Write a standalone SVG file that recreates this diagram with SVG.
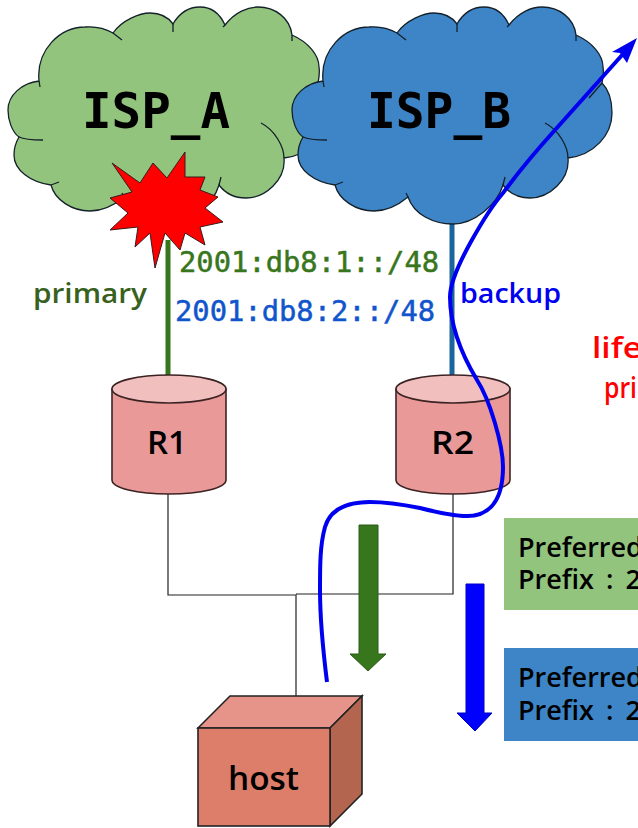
<svg xmlns="http://www.w3.org/2000/svg" width="638" height="828" viewBox="0 0 638 828">
<style>
.lbl{font-family:"DejaVu Sans Mono","Liberation Mono",monospace}
.sans{font-family:"Open Sans","DejaVu Sans",sans-serif;font-weight:600}
.addr{font-size:28.8px;stroke-width:.5px}
.isp{font-size:49px;font-weight:700;fill:#000}
.cloudline{fill:none;stroke:#14202a;stroke-width:1.3}
.cyl{fill:#ea9999;stroke:#3c2323;stroke-width:1.6}
.cyltop{fill:#f2bfbf;stroke:#3c2323;stroke-width:1.6}
.wire{fill:none;stroke:#222;stroke-width:1.2}
.pref{font-size:27px;fill:#000;word-spacing:5px}
</style>
<defs>
<path id="cl" d="M39,81 C36,50 60,27 85,27 C97,26 106,29 113,33 C122,20 140,13 150,13 C160,13 168,17 173,24 C180,12 190,7 200,7 C212,7 220,14 225,25 C235,12 248,7 258,7 C275,7 290,18 292,35 C308,42 319,55 319,67 C320,73 319,78 318,83 C325,90 328,102 328,113 C328,135 310,155 284,158 C286,180 265,198 246,198 C235,198 225,193 219,185 C213,205 190,224 169,224 C150,224 130,215 124,197 C112,207 100,211 90,211 C72,211 55,200 51,185 C30,182 14,170 14,155 C14,148 16,142 19,137 C12,132 8,120 8,110 C8,95 22,83 39,81 Z"/>
<path id="cltail" d="M39,81 l1,6 M113,33 l9,7 M173,24 v8 M225,25 l-2,2 M292,35 v6 M318,83 l-13,15 M261,123 C275,130 284,147 284,158 M219,185 l2,-8 M124,197 l-2,-4 M51,185 l8,-3 M19,137 C25,140 35,140 43,140"/>
</defs>
<g id="connectors">
<path d="M168,240 V376" fill="none" stroke="#38761d" stroke-width="5"/>
<path d="M452,222 V376" fill="none" stroke="#1a659e" stroke-width="5"/>
<path class="wire" d="M168,494 V595 H296 V696 M453,494 V594 H296"/>
</g>
<g id="isp-a">
<use href="#cl" fill="#93c47d" stroke="#14202a" stroke-width="1.3"/>
<use href="#cltail" class="cloudline"/>
<text class="lbl isp" x="82" y="128" textLength="148" lengthAdjust="spacingAndGlyphs">ISP_A</text>
</g>
<g id="isp-b">
<use href="#cl" x="284" fill="#3d85c6" stroke="#14202a" stroke-width="1.3"/>
<use href="#cltail" x="284" class="cloudline"/>
<text class="lbl isp" x="367" y="128" textLength="144" lengthAdjust="spacingAndGlyphs">ISP_B</text>
</g>
<g id="failure">
<polygon points="112,163 140,183 153,163 167,178 185,152 185,177 205,177 200,190 218,197 205,208 223,222 200,227 205,245 185,233 180,250 165,233 155,268 150,233 135,247 138,227 110,230 128,213 110,198 132,192" fill="#f00" stroke="#3a1a1a" stroke-width="1"/>
</g>
<g id="r1">
<path class="cyl" d="M112,389 V480 C112,488 137,494 169,494 C201,494 226,488 226,480 V389 Z"/>
<ellipse class="cyltop" cx="169" cy="389" rx="57" ry="14"/>
<text class="sans" x="147" y="454" font-size="33" fill="#000" textLength="40" lengthAdjust="spacingAndGlyphs">R1</text>
</g>
<g id="r2">
<path class="cyl" d="M396,389 V480 C396,488 421,494 453,494 C485,494 510,488 510,480 V389 Z"/>
<ellipse class="cyltop" cx="453" cy="389" rx="57" ry="14"/>
<text class="sans" x="431" y="454" font-size="33" fill="#000" textLength="43" lengthAdjust="spacingAndGlyphs">R2</text>
</g>
<g id="host">
<polygon points="198,728 230,696 362,696 330,728" fill="#e6948a" stroke="#222" stroke-width="1.6"/>
<polygon points="330,728 362,696 362,794 330,826" fill="#b4654f" stroke="#222" stroke-width="1.6"/>
<rect x="198" y="728" width="132" height="98" fill="#dd7e6b" stroke="#222" stroke-width="1.6"/>
<text class="sans" x="228" y="790" font-size="32" fill="#000" textLength="71" lengthAdjust="spacingAndGlyphs">host</text>
</g>
<g id="labels">
<text class="lbl addr" x="179" y="272" fill="#38761d" stroke="#38761d">2001:db8:1::/48</text>
<text class="lbl addr" x="175" y="321" fill="#1155cc" stroke="#1155cc">2001:db8:2::/48</text>
<text class="sans" x="33" y="303" font-size="27" fill="#38611d" textLength="114" lengthAdjust="spacingAndGlyphs">primary</text>
<text class="sans" x="460" y="303" font-size="27" fill="#0000f0" textLength="101" lengthAdjust="spacingAndGlyphs">backup</text>
<text class="sans" x="592" y="358" font-size="29" fill="#f00" textLength="50" lengthAdjust="spacingAndGlyphs">life</text>
<text class="sans" x="604" y="398" font-size="29" fill="#f00" textLength="33" lengthAdjust="spacingAndGlyphs">pri</text>
</g>
<g id="prefix-green">
<rect x="504" y="518" width="134" height="92" fill="#93c47d"/>
<text class="sans pref"><tspan x="518" y="557">Preferred</tspan><tspan x="518" y="589">Prefix : 2</tspan></text>
</g>
<g id="prefix-blue">
<rect x="504" y="648" width="134" height="93" fill="#3d85c6"/>
<text class="sans pref"><tspan x="518" y="687">Preferred</tspan><tspan x="518" y="720">Prefix : 2</tspan></text>
</g>
<g id="flow-arrows">
<polygon points="359,525 378,525 378,654 386,654 368,671 350,654 359,654" fill="#38761d" stroke="#2c5a17" stroke-width="1"/>
<polygon points="466,584 484,584 484,713 492,713 475,731 457,713 466,713" fill="#0000ff" stroke="#0000c0" stroke-width="1"/>
<path d="M327,682 C323,650 320,620 320,590 C320,565 320,545 325,527 C330,510 345,502 370,502 C390,502 405,505 420,508 C440,513 455,516 467,516 C490,516 503,500 503,467 C503,445 490,400 477,380 C465,360 450,330 450,297 C450,270 490,208 503,193 C520,170 535,152 555,130 L623,54" fill="none" stroke="#0000f0" stroke-width="4"/>
<polygon points="637,38 627,63 620,53 612,52" fill="#0000f0"/>
</g>
</svg>
